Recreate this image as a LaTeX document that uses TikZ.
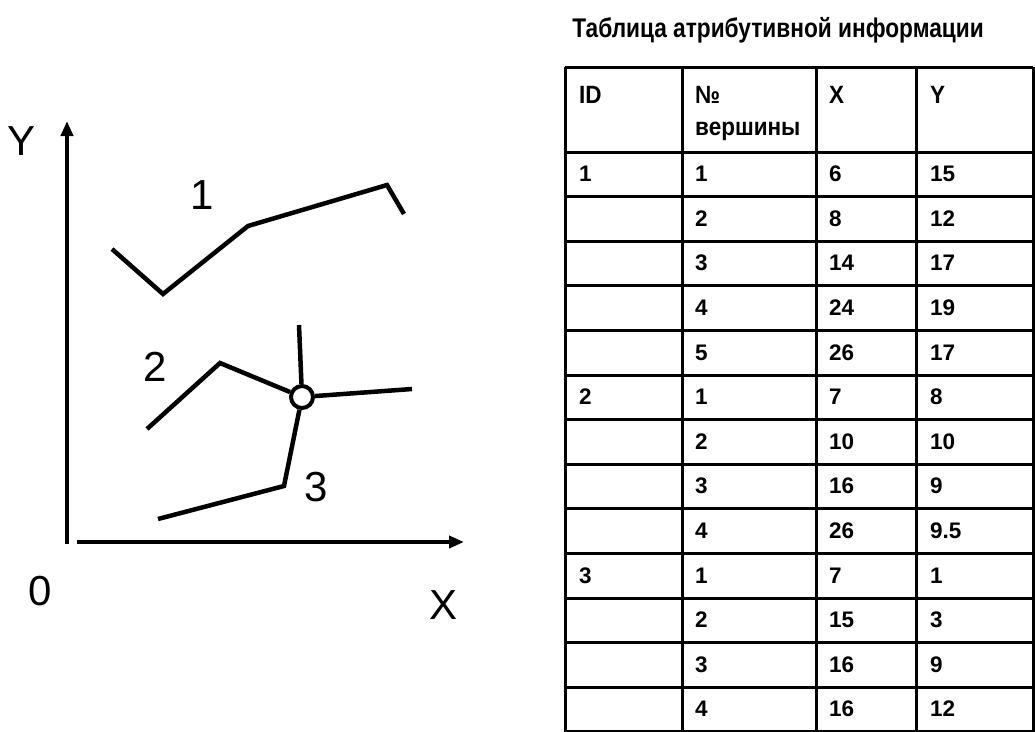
\documentclass[tikz,border=0pt]{standalone}
\usepackage{fontspec}
\setmainfont{Liberation Sans}
\usetikzlibrary{arrows.meta}

\tikzset{
  axis/.style={line width=4pt,-{Triangle[length=15pt,width=12pt]}},
  polyline/.style={line width=4.5pt},
  biglabel/.style={font=\fontsize{42}{44}\selectfont},
  cell/.style={anchor=base west,inner sep=0pt,font=\fontsize{22.5}{26}\selectfont\bfseries},
  headcell/.style={anchor=base west,inner sep=0pt,font=\fontsize{25}{32}\selectfont\bfseries},
  grid/.style={line width=3pt}
}
\newcommand{\narrow}[1]{\scalebox{0.9}[1]{#1}}

\begin{document}
\begin{tikzpicture}[x=1pt,y=-1pt]
  \useasboundingbox (0,0) rectangle (1035,731);

  % axes
  \coordinate (o) at (67,544);
  \coordinate (ytop) at (67,121);
  \coordinate (xstart) at (77,542);
  \coordinate (xend) at (464,542);
  \draw[axis] (o) -- (ytop);
  \draw[axis] (xstart) -- (xend);
  \node[biglabel] (ylab) at (22,141) {Y};
  \node[biglabel] (olab) at (40,591) {0};
  \node[biglabel] (xlab) at (443,605) {X};

  % line 1
  \coordinate (a1) at (112,249);
  \coordinate (a2) at (163,294);
  \coordinate (a3) at (248,226);
  \coordinate (a4) at (387,185);
  \coordinate (a5) at (404,214);
  \draw[polyline] (a1) -- (a2) -- (a3) -- (a4) -- (a5);
  \node[biglabel] (lab1) at (202,195) {1};

  % lines 2 and 3, joined at the knot
  \node[circle,draw,fill=white,line width=4pt,minimum size=22pt,inner sep=0pt] (knot) at (302,397) {};
  \coordinate (b1) at (147,429);
  \coordinate (b2) at (220,363);
  \coordinate (b4) at (412,389);
  \coordinate (stub) at (299,325);
  \draw[polyline] (b1) -- (b2) -- (knot);
  \draw[polyline] (knot) -- (b4);
  \draw[polyline] (knot) -- (stub);
  \coordinate (c1) at (158,519);
  \coordinate (c2) at (284,486);
  \draw[polyline] (c1) -- (c2) -- (knot);
  \node[biglabel] (lab2) at (155,367) {2};
  \node[biglabel] (lab3) at (316,487) {3};

  % table
  \node[font=\fontsize{27}{30}\selectfont\bfseries] (title) at (778,30)
    {\scalebox{0.84}[1]{Таблица атрибутивной информации}};
  \foreach \cx in {565,682,816,916,1033}
    \draw[grid] (\cx,67) -- (\cx,735);
  \draw[grid] (565,67) -- (1033,67);
  \foreach \k in {0,...,13}
    \draw[grid] (565,152+44.6*\k) -- (1033,152+44.6*\k);

  \node[headcell] (hid) at (579,103) {\narrow{ID}};
  \node[headcell] (hno) at (695,103) {\narrow{№}};
  \node[headcell] (hnv) at (695,135) {\narrow{вершины}};
  \node[headcell] (hx) at (829,103) {\narrow{X}};
  \node[headcell] (hy) at (930,103) {\narrow{Y}};

  \foreach \id/\nv/\vx/\vy [count=\r] in {1/1/6/15, {}/2/8/12, {}/3/14/17,
      {}/4/24/19, {}/5/26/17, 2/1/7/8, {}/2/10/10, {}/3/16/9, {}/4/26/9.5,
      3/1/7/1, {}/2/15/3, {}/3/16/9, {}/4/16/12}{
    \node[cell] (id-\r) at (579,152+44.6*\r-15) {\id};
    \node[cell] (nv-\r) at (695,152+44.6*\r-15) {\nv};
    \node[cell] (vx-\r) at (829,152+44.6*\r-15) {\vx};
    \node[cell] (vy-\r) at (930,152+44.6*\r-15) {\vy};
  }
\end{tikzpicture}
\end{document}
